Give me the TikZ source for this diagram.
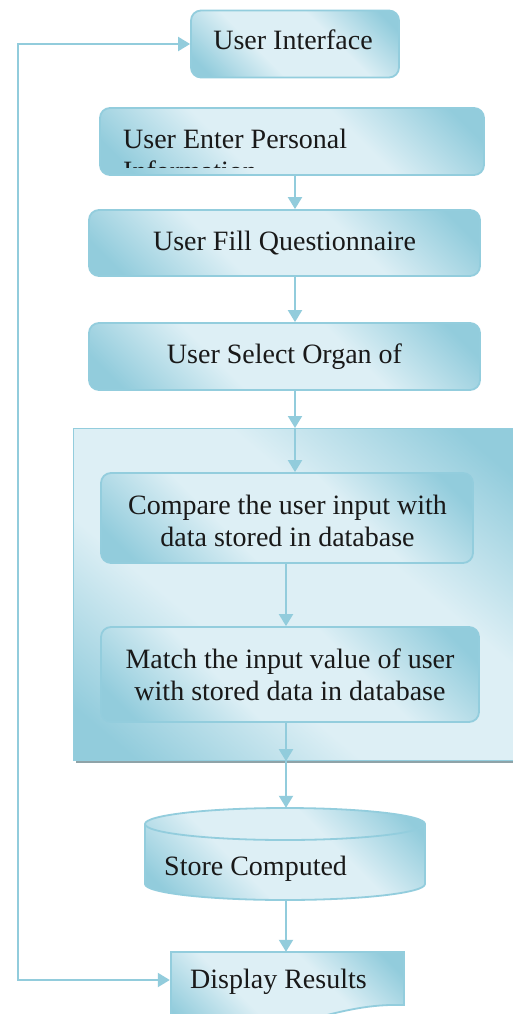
\documentclass[tikz,border=0pt]{standalone}
\usepackage{fontspec}
\setmainfont{Liberation Serif}
\usetikzlibrary{arrows.meta,calc}
\definecolor{bord}{HTML}{93CDDD}
\definecolor{lt}{HTML}{DDEFF5}
\definecolor{dk}{HTML}{92CCDC}
\definecolor{shad}{HTML}{8FA3A8}
\pgfdeclareverticalshading{wordsh}{100bp}{color(0bp)=(dk); color(20bp)=(dk); color(39bp)=(lt); color(61bp)=(lt); color(80bp)=(dk); color(100bp)=(dk)}
\tikzset{
  box/.style={draw=bord, line width=1.8pt, rounded corners=10pt, shading=wordsh, shading angle=-45, inner sep=0pt},
  arr/.style={draw=dk, line width=2pt, -{Triangle[width=14pt,length=12pt]}},
  txt/.style={font=\rmfamily\fontsize{28}{32}\selectfont, text=black!90, inner sep=0pt, align=center},
  ghost/.style={inner sep=0pt, draw=none}
}
\begin{document}
\begin{tikzpicture}[x=1pt,y=1pt]
\useasboundingbox (0,0) rectangle (512,-1014);
\fill[white] (0,0) rectangle (512,-1014);
\coordinate (ax) at (295,0);
\coordinate (bx) at (286,0);
\coordinate (lft) at (18,-500);

% top boxes
\node[box, minimum width=208pt, minimum height=67pt] (ui) at (295,-44) {};
\node[txt, anchor=base] (uit) at (293,-50) {User Interface};

\node[box, minimum width=384pt, minimum height=67pt] (pers) at (292,-141.5) {};
\begin{scope}
  \clip ($(pers.south west)+(2,8)$) rectangle ($(pers.north east)+(-2,-2)$);
  \node[txt, align=left, anchor=north west] (perst) at (123,-128.5) {User Enter Personal\\Information};
\end{scope}

\node[box, minimum width=391pt, minimum height=66pt] (quest) at (284.5,-243) {};
\node[txt, anchor=base] (questt) at (284.5,-250) {User Fill Questionnaire};

\node[box, minimum width=391pt, minimum height=67pt] (organ) at (284.5,-356.5) {};
\node[txt, anchor=base] (organt) at (284.5,-363) {User Select Organ of};

% container
\fill[shad] (76,-431) rectangle (520,-763);
\node[draw=bord, line width=1.2pt, shading=wordsh, shading angle=-40, anchor=north west,
      minimum width=447pt, minimum height=332pt, inner sep=0pt] (cont) at (73,-428) {};

\node[box, minimum width=372pt, minimum height=90pt] (cmp) at (287,-518) {};
\node[txt, anchor=north] (cmpt) at (287.5,-494.5) {Compare the user input with\\data stored in database};

\node[box, minimum width=378pt, minimum height=95pt] (match) at (290,-674.5) {};
\node[txt, anchor=north] (matcht) at (290,-648.5) {Match the input value of user\\with stored data in database};

% cylinder
\node[ghost, minimum width=280pt, minimum height=92pt] (cyl) at (285,-854) {};
\shade[draw=bord, line width=1.8pt, shading=wordsh, shading angle=-45]
  (145,-824) -- (145,-884) arc[start angle=180, end angle=360, x radius=140pt, y radius=16pt]
  -- (425,-824) arc[start angle=0, end angle=180, x radius=140pt, y radius=16pt] -- cycle;
\draw[draw=bord, line width=1.8pt] (145,-824) arc[start angle=180, end angle=360, x radius=140pt, y radius=16pt];
\node[txt, anchor=base west] (cylt) at (164,-875) {Store Computed};

% document shape
\node[ghost, minimum width=234pt, minimum height=56pt] (disp) at (287,-980) {};
\shade[draw=bord, line width=1.8pt, shading=wordsh, shading angle=-45]
  (171,-952) -- (404,-952) -- (404,-1005)
  .. controls (370,-1004) and (345,-1010) .. (300,-1022)
  .. controls (250,-1034) and (200,-1034) .. (171,-1028) -- cycle;
\node[txt, anchor=base west] (dispt) at (190,-988) {Display Results};

% connectors
\draw[arr] (pers.south -| ax) -- (quest.north -| ax);
\draw[arr] (quest.south -| ax) -- (organ.north -| ax);
\draw[arr] (organ.south -| ax) -- (cont.north -| ax);
\draw[arr] (cont.north -| ax) -- (cmp.north -| ax);
\draw[arr] (cmp.south -| bx) -- (match.north -| bx);
\draw[arr] (match.south -| bx) -- (cont.south -| bx);
\draw[arr] (cont.south -| bx) -- (cyl.north -| bx);
\draw[arr] (cyl.south -| bx) -- (disp.north -| bx);
\draw[draw=dk, line width=2pt, {Triangle[width=14pt,length=12pt]}-{Triangle[width=14pt,length=12pt]}]
  (ui.west) -| (lft) |- (disp.west);
\end{tikzpicture}
\end{document}
